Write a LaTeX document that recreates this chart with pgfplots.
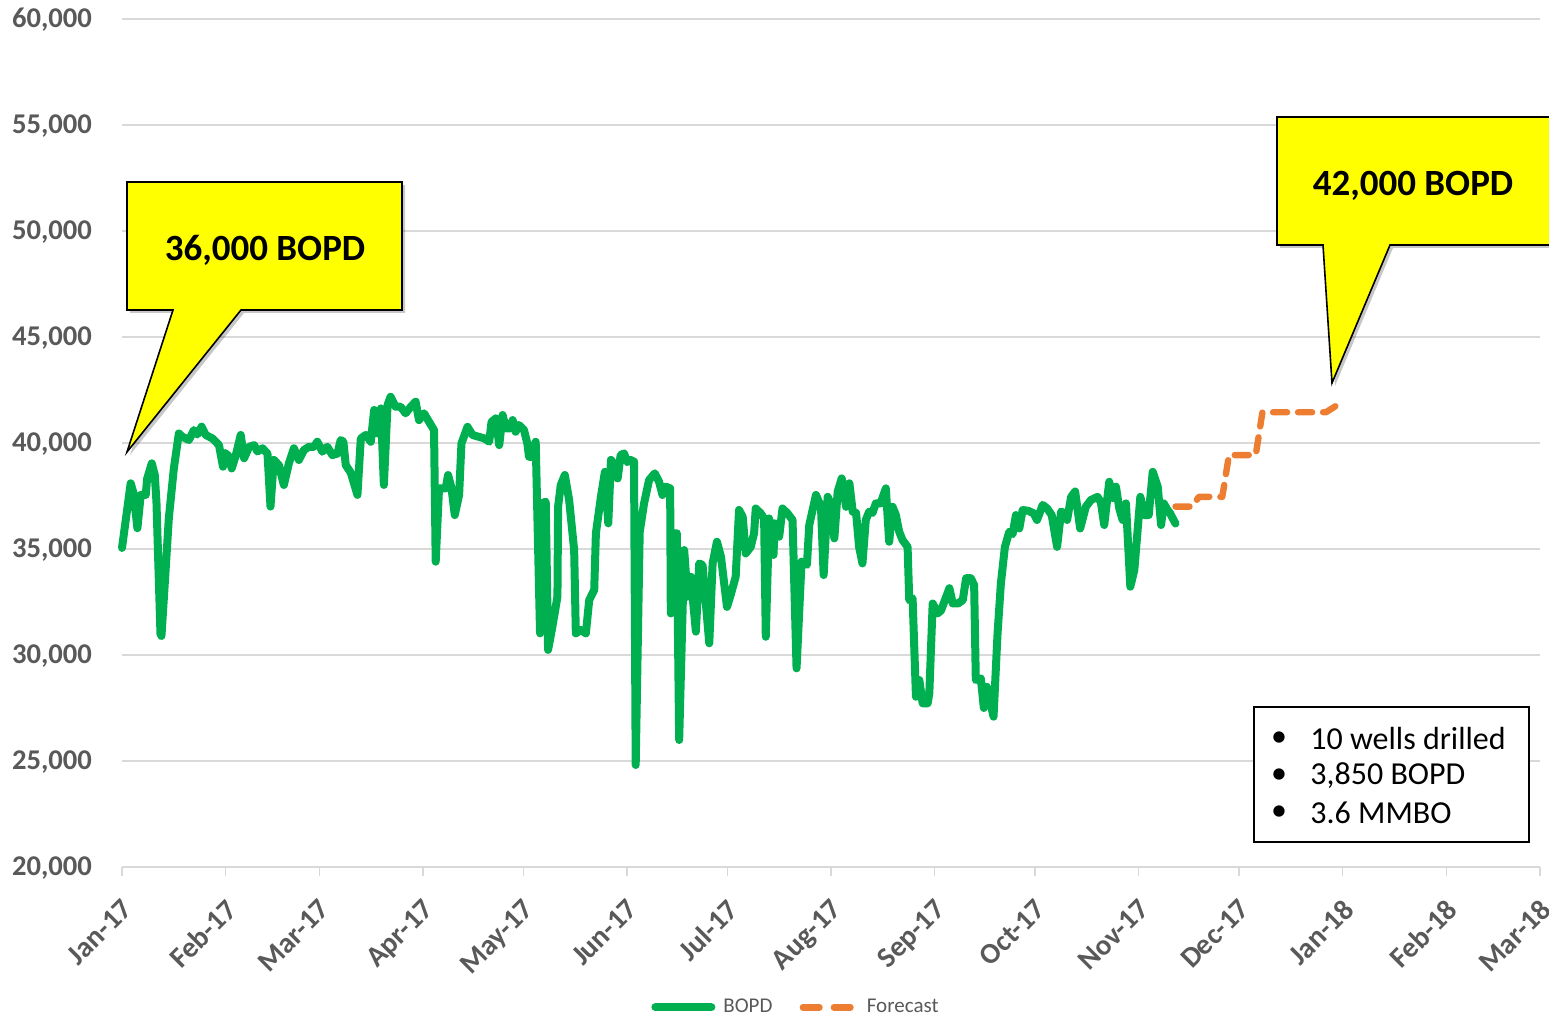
\documentclass[border=0pt]{standalone}
\usepackage{pgfplots}
\pgfplotsset{compat=1.18}
\usepackage{fontspec}
\setmainfont{Carlito}
\definecolor{bopdgreen}{HTML}{00B050}
\definecolor{fcorange}{HTML}{ED7D31}
\definecolor{gridgray}{HTML}{D9D9D9}
\definecolor{labelgray}{HTML}{595959}
\definecolor{calloutyellow}{HTML}{FFFF00}
\begin{document}
\begin{tikzpicture}
\useasboundingbox (0,0) rectangle (774.5pt,508pt);
\begin{axis}[
  at={(61pt,74.5pt)}, anchor=south west,
  scale only axis, width=709pt, height=424pt,
  xmin=0, xmax=424, ymin=20000, ymax=60000,
  axis x line*=bottom, axis y line*=left,
  x axis line style={draw=gridgray, line width=0.6pt},
  y axis line style={draw=none},
  ymajorgrids, grid style={gridgray, line width=0.6pt},
  ytick={20000,25000,30000,35000,40000,45000,50000,55000,60000},
  scaled y ticks=false,
  /pgf/number format/.cd, fixed, precision=0, 1000 sep={,}, assume math mode=true,
  /pgfplots/.cd,
  xtick={0,31,59,90,120,151,181,212,243,273,304,334,365,396,424},
  xticklabels={Jan-17,Feb-17,Mar-17,Apr-17,May-17,Jun-17,Jul-17,Aug-17,Sep-17,Oct-17,Nov-17,Dec-17,Jan-18,Feb-18,Mar-18},
  tick align=outside, major tick length=4.5pt,
  xtick style={draw=gridgray, line width=0.6pt},
  ytick style={draw=none},
  yticklabel style={font=\bfseries\fontsize{14.3}{16}\selectfont, text=labelgray, xshift=-7pt, yshift=-0.5pt},
  xticklabel style={font=\bfseries\fontsize{14.5}{16}\selectfont, text=labelgray, rotate=45, anchor=north east, inner sep=1pt, xshift=-7pt, yshift=-6pt},
  clip=false,
  legend style={at={(0.4746,-0.1655)}, anchor=center, draw=none, fill=none,
    font=\fontsize{10.5}{12}\selectfont, text=labelgray, legend columns=2,
    /tikz/every even column/.append style={column sep=10pt}},
]
\addplot[bopdgreen, line width=4pt, line join=round, line cap=round,
  legend image code/.code={\draw[bopdgreen, line width=4pt, line cap=round] (2pt,0pt) -- (30pt,0pt); \path (0pt,0pt) (32pt,0pt);}] coordinates {
(0,35050) (2.6,38100) (3.5,37600) (4.6,35980) (5.6,37550) (7.1,37550) (7.5,38300)
(8.9,39040) (9.8,38490) (10.3,37230) (11.5,31000) (11.8,30900) (13,33900) (14,36450)
(15.5,38800) (17,40450) (18,40300) (20,40140) (21.5,40610) (22.5,40400) (23.8,40770)
(25,40380) (27,40220) (29,39900) (30.2,38880) (30.8,39520) (31.8,39400) (32.8,38800)
(34,39400) (35.5,40380) (36.5,39280) (38,39820) (39.5,39900) (40.5,39600) (42,39750)
(43.5,39500) (44.4,37000) (45.4,39200) (46.9,38960) (48.4,38020) (49.9,39040) (51.4,39750)
(52.9,39200) (54.4,39670) (55.9,39820) (57.4,39820) (58.4,40060) (59.9,39590) (61.4,39820)
(62.9,39430) (64.4,39500) (65.4,40140) (66.2,40060) (66.9,38960) (68.4,38600) (70.4,37550)
(71.4,40210) (72.9,40380) (74.4,40060) (75.4,41560) (76.4,40450) (77.4,41630) (78.3,38020)
(79.4,41790) (80.3,42180) (81.8,41710) (83.3,41710) (84.8,41400) (86.3,41700) (87.8,41950)
(88.8,41080) (90.3,41400) (91.8,41000) (93.3,40610) (93.8,34400) (94.8,37860) (96.8,37860)
(97.5,38490) (98.5,37900) (99.5,36600) (100.8,37550) (101.5,39980) (103.3,40760) (104.8,40380)
(106.5,40300) (108.3,40220) (109.8,40060) (110.5,41000) (111.8,41160) (112.8,39900) (113.8,41320)
(114.8,40690) (116,40690) (116.8,41080) (117.7,40530) (118.7,40850) (120.2,40610) (121.2,39980)
(121.7,39350) (122.7,39350) (123.7,40060) (125,31020) (125.7,37150) (126.7,37230) (127.4,30240)
(128.7,31340) (130.2,32750) (130.4,37000) (131.2,38020) (132.4,38490) (133.7,37310) (135.2,34950)
(135.7,31020) (137.2,31180) (138.7,31020) (139.7,32590) (141.2,33070) (141.7,35740) (143.2,37460)
(144.4,38640) (145.4,36210) (146.2,39200) (147.2,39000) (148.2,38330) (149.1,39430) (150.1,39510)
(151.1,39100) (152.1,39200) (153.1,39120) (153.6,24810) (154.8,35800) (156.1,37150) (157.6,38250)
(159.3,38570) (160.6,38170) (161.6,37550) (162.6,37940) (163.9,37860) (164.1,31960) (164.9,35740)
(165.9,35740) (166.6,25990) (168.1,34950) (169.1,32750) (170.1,33690) (170.6,32800) (171.6,31100)
(172.6,34320) (173.6,34240) (175.6,30550) (176.6,34320) (177.9,35340) (179.1,34630) (180.9,32270)
(182,32830) (183.5,33690) (184.5,36840) (185.6,36520) (186.5,34790) (188,35100) (189,35740)
(189.5,36910) (191,36680) (192,36440) (192.5,30860) (193.5,36440) (194.8,34720) (195.2,36210)
(196.5,35580) (197.5,36910) (199,36680) (200.5,36370) (201.7,29370) (203.2,34400) (204.8,34250)
(205.5,36130) (207.5,37550) (209,36990) (209.8,33770) (211,37460) (212,37100) (213,35500)
(214,37710) (215.2,38330) (216.5,36990) (217.5,38100) (218.5,36760) (219.5,36700) (220.4,35100)
(221.4,34320) (222.4,36370) (223.4,36760) (224.4,36700) (225.4,37150) (226.8,37150) (228.4,37860)
(229.4,35340) (230.4,36990) (231.4,36600) (232.4,35810) (233.4,35420) (234.9,35100) (235.4,32590)
(236.4,32670) (237.4,28030) (238.4,28820) (239.4,27720) (240.9,27720) (241.4,28190) (242.4,32430)
(243.9,31960) (244.9,32100) (247.4,33150) (248.4,32430) (250,32430) (251.4,32590) (252.4,33620)
(253.8,33620) (254.8,33300) (255.3,28820) (256.8,28900) (257.7,27500) (258.6,28500) (260.6,27090)
(261.8,31020) (262.8,33380) (264,35100) (265.3,35810) (266.3,35700) (267.3,36600) (268.3,35970)
(269.3,36840) (271,36800) (272.6,36680) (273.6,36370) (275.3,37080) (276.7,36900) (278,36600)
(279.6,35100) (280.8,36760) (281.8,36700) (282.6,36370) (283.8,37460) (285,37710) (286.5,35970)
(288.2,36990) (289.7,37310) (291.7,37460) (292.7,37200) (293.7,36130) (295.2,38170) (296.2,37400)
(297.2,37940) (298.2,36910) (299.2,36370) (300.2,37150) (301.5,33220) (302.7,34010) (304.5,37460)
(305.7,36600) (307,36600) (308.2,38640) (309.7,37940) (310.7,36130) (311.5,37150) (312.4,36900)
(313.4,36680) (315,36200)
};
\addlegendentry{BOPD}
\addplot[fcorange, line width=3.2pt, line cap=round, line join=round, dash pattern=on 7pt off 5.5pt,
  legend image code/.code={\draw[fcorange, line width=3.2pt, line cap=round, dash pattern=on 8.3pt off 7.2pt] (1.6pt,0pt) -- (25.4pt,0pt); \path (0pt,0pt) (30pt,0pt);}] coordinates {
(315,37000) (320,37000) (322,37460) (329,37460) (331,39430) (339,39430) (341,41450) (360,41450) (365,41950)
};
\addlegendentry{Forecast}
\end{axis}
\begin{scope}[x=0.5pt, y=-0.5pt, yshift=508pt]
  % left callout
  \fill[black, opacity=0.22] (130,185) -- (405,185) -- (405,313) -- (244,313) -- (130,455) -- (176,313) -- (130,313) -- cycle;
  \draw[fill=calloutyellow, line width=0.8pt, line join=miter] (127,182) -- (402,182) -- (402,310) -- (241,310) -- (127,452) -- (173,310) -- (127,310) -- cycle;
  \node[font=\bfseries\fontsize{18.5}{22}\selectfont] at (265,250) {36,000 BOPD};
  % right callout
  \fill[black, opacity=0.22] (1280,120) -- (1570,120) -- (1570,248) -- (1393,248) -- (1335,386) -- (1326,248) -- (1280,248) -- cycle;
  \draw[fill=calloutyellow, line width=0.8pt, line join=miter] (1277,117) -- (1570,117) -- (1570,245) -- (1390,245) -- (1332,383) -- (1323,245) -- (1277,245) -- cycle;
  \node[font=\bfseries\fontsize{18.5}{22}\selectfont] at (1413,186) {42,000 BOPD};
  % info box
  \draw[fill=white, line width=0.9pt] (1254,707) rectangle (1529,842);
  \begin{scope}[every node/.style={font=\fontsize{16}{19}\selectfont, inner sep=0pt}]
    \node at (1279,739) {\textbullet};
    \node at (1279,776) {\textbullet};
    \node at (1279,813) {\textbullet};
    \node[anchor=west] at (1310,739) {10 wells drilled};
    \node[anchor=west] at (1310,776) {3,850 BOPD};
    \node[anchor=west] at (1310,813) {3.6 MMBO};
  \end{scope}
\end{scope}
\end{tikzpicture}
\end{document}
